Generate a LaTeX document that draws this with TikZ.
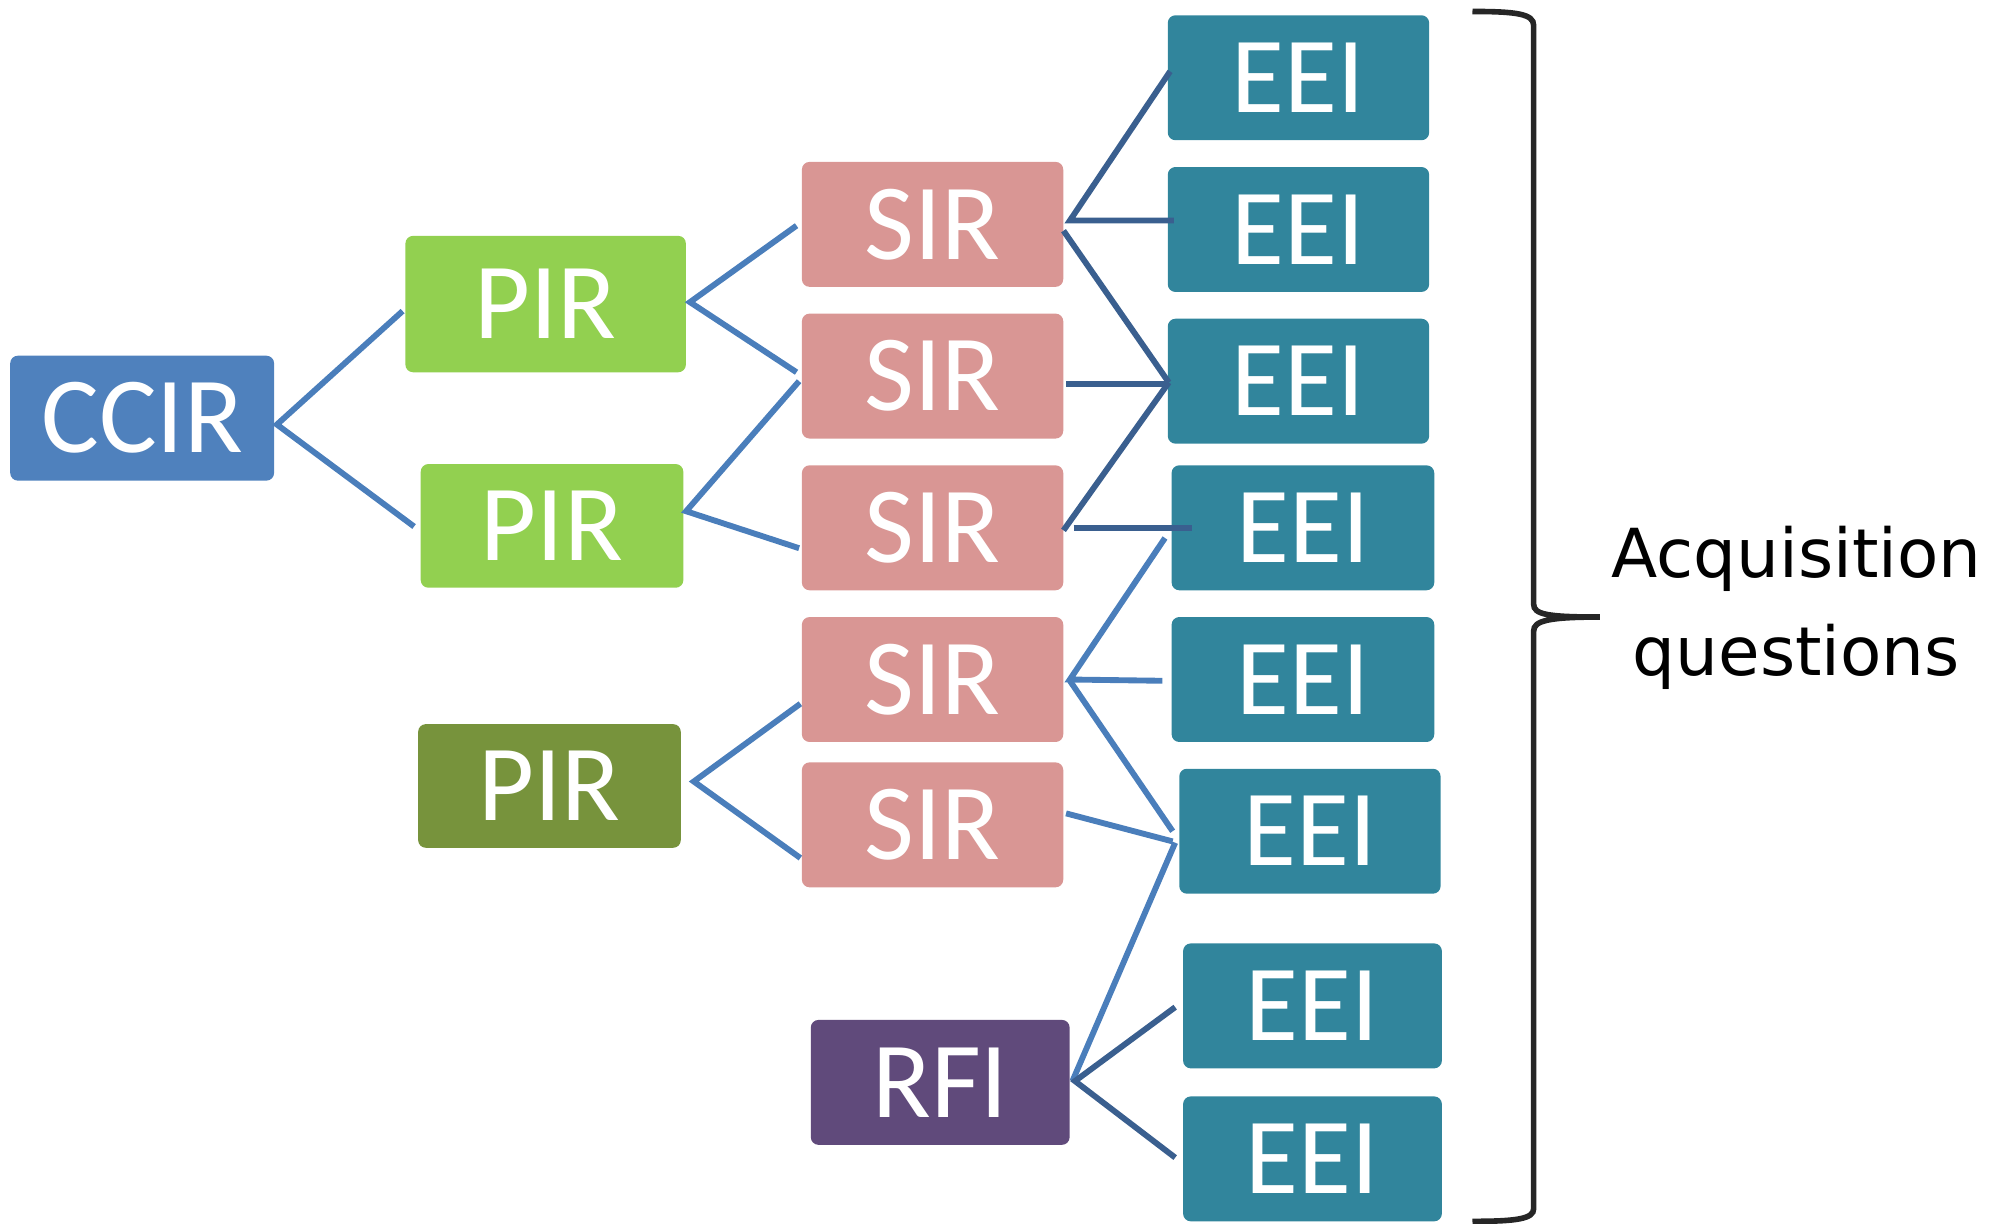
\documentclass[tikz,border=0pt]{standalone}
\usepackage{fontspec}
\setmainfont{Carlito}
\newfontfamily\labfont{DejaVu Sans}
\usetikzlibrary{calc}
\definecolor{cblue}{HTML}{4F81BD}
\definecolor{cgreen}{HTML}{92D050}
\definecolor{cdgreen}{HTML}{77933C}
\definecolor{cpink}{HTML}{D99694}
\definecolor{cpurple}{HTML}{604A7B}
\definecolor{cteal}{HTML}{31859C}
\definecolor{lnlight}{HTML}{4A7EBB}
\definecolor{lndark}{HTML}{3A5F8F}
\definecolor{brc}{HTML}{262626}
\tikzset{
  box/.style={draw=none, rounded corners=6pt, minimum width=205pt, minimum height=98pt,
    inner sep=0pt, text=white, font=\fontsize{85}{85}\selectfont},
  lnk/.style={draw=lnlight, line width=4.6pt},
  lnkd/.style={draw=lndark, line width=4.6pt},
}
\begin{document}
\begin{tikzpicture}[x=1pt,y=-1pt]
\useasboundingbox (0,0) rectangle (1568,960);
% nodes
\node[box, fill=cblue, minimum width=207pt] (ccir) at (111.5,328) {CCIR};
\node[box, fill=cgreen, minimum width=220pt, minimum height=107pt] (pir1) at (428,238.5) {PIR};
\node[box, fill=cgreen, minimum width=206pt, minimum height=97pt] (pir2) at (433,412.5) {PIR};
\node[box, fill=cdgreen, minimum width=206pt, minimum height=97pt] (pir3) at (431,616.5) {PIR};
\node[box, fill=cpink] (sir1) at (731.5,176) {SIR};
\node[box, fill=cpink] (sir2) at (731.5,295) {SIR};
\node[box, fill=cpink] (sir3) at (731.5,414) {SIR};
\node[box, fill=cpink] (sir4) at (731.5,533) {SIR};
\node[box, fill=cpink] (sir5) at (731.5,647) {SIR};
\node[box, fill=cpurple, minimum width=203pt] (rfi) at (737.5,849) {RFI};
\node[box, fill=cteal] (eei1) at (1018.5,61) {EEI};
\node[box, fill=cteal] (eei2) at (1018.5,180) {EEI};
\node[box, fill=cteal] (eei3) at (1018.5,299) {EEI};
\node[box, fill=cteal, minimum width=206pt] (eei4) at (1022,414) {EEI};
\node[box, fill=cteal, minimum width=206pt] (eei5) at (1022,533) {EEI};
\node[box, fill=cteal] (eei6) at (1027.5,652) {EEI};
\node[box, fill=cteal, minimum width=203pt] (eei7) at (1029.5,789) {EEI};
\node[box, fill=cteal, minimum width=203pt] (eei8) at (1029.5,909) {EEI};
% connectors
\draw[lnk] ($(pir1.west)+(-2,5.5)$) -- ($(ccir.east)+(2,5)$) -- ($(pir2.west)+(-5,0.5)$);
\draw[lnk] ($(sir1.west)+(-4,1)$) -- ($(pir1.east)+(3,-1.5)$) -- ($(sir2.west)+(-4,-3)$);
\draw[lnk] ($(sir2.west)+(-2,4)$) -- ($(pir2.east)+(2,-11.5)$) -- ($(sir3.west)+(-2,16)$);
\draw[lnk] ($(sir4.west)+(-1,19)$) -- ($(pir3.east)+(10,-3.5)$) -- ($(sir5.west)+(-1,26)$);
\draw[lnkd] ($(eei1.west)+(2,-5)$) -- ($(sir1.east)+(5,-3)$) -- ($(eei2.west)+(5,-7)$);
\draw[lnkd] ($(sir1.east)+(0,5)$) -- ($(eei3.west)+(1,1)$);
\draw[lnkd] ($(sir2.east)+(2,6)$) -- ($(eei3.west)+(1,2)$);
\draw[lnkd] ($(sir3.east)+(0,2)$) -- ($(eei3.west)+(1,1)$);
\draw[lnkd] ($(sir3.east)+(8,0)$) -- ($(eei4.west)+(16,0)$);
\draw[lnk] ($(eei4.west)+(-5,8)$) -- ($(sir4.east)+(5,0)$) -- ($(eei5.west)+(-7,1)$);
\draw[lnk] ($(sir4.east)+(5,1)$) -- ($(eei6.west)+(-5,0)$);
\draw[lnk] ($(sir5.east)+(2,-9)$) -- ($(eei6.west)+(-5,8)$);
\draw[lnk] ($(rfi.east)+(2,-1)$) -- ($(eei6.west)+(-3,9)$);
\draw[lnkd] ($(eei7.west)+(-6,1)$) -- ($(rfi.east)+(4,-1)$) -- ($(eei8.west)+(-6,-1)$);
% brace
\draw[brc, line width=4.4pt, line cap=butt]
  (1155,9) .. controls (1190,9) and (1203,11) .. (1203,20)
  -- (1203,474) .. controls (1203,482) and (1214,484) .. (1255,484)
  .. controls (1214,484) and (1203,487) .. (1203,495)
  -- (1203,948) .. controls (1203,956) and (1190,958) .. (1155,958);
\node[font=\labfont\fontsize{53}{77}\selectfont, align=center, inner sep=0pt] (aq) at (1409,477) {Acquisition\\questions};
\end{tikzpicture}
\end{document}
